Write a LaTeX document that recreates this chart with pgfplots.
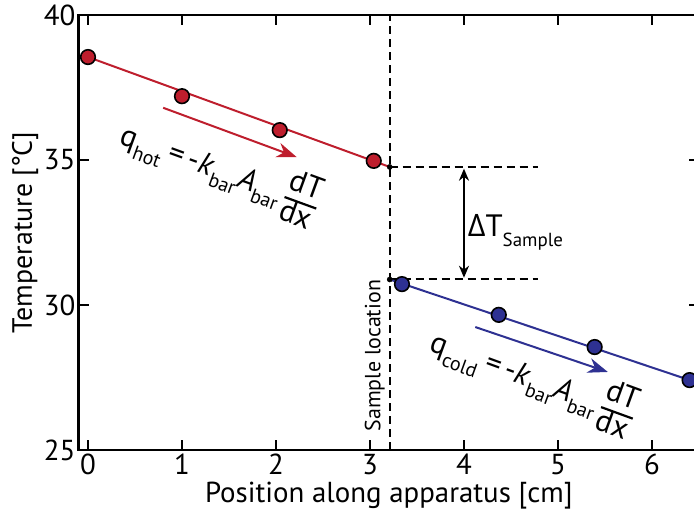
\documentclass[border=0pt]{standalone}
\usepackage{fontspec}
\setmainfont{PT Sans}
\newfontfamily\gk{Open Sans}
\usepackage{pgfplots}
\pgfplotsset{compat=1.18}
\usetikzlibrary{arrows.meta}
\definecolor{hot}{RGB}{190,30,45}
\definecolor{cold}{RGB}{46,49,146}
\newcommand{\fs}[1]{\fontsize{#1}{#1}\selectfont}
\newcommand{\sub}[1]{\raisebox{-0.32em}{\fs{20}#1}}
\newcommand{\dfr}{{\setlength{\arrayrulewidth}{2.2bp}\renewcommand{\arraystretch}{0.85}\begin{tabular}{@{}c@{}}dT\\\hline dx\end{tabular}}}
\newcommand{\eqn}[1]{\fs{31}q\sub{#1}\hspace{0.2em}=\hspace{0.15em}-\textit{k}\sub{bar}\textit{A}\sub{bar}\hspace{0.15em}\dfr}
\begin{document}
\begin{tikzpicture}
\begin{axis}[
  x=94bp, y=29bp,
  xmin=-0.1, xmax=6.5, ymin=25, ymax=40,
  clip=false,
  axis line style={line width=2.5bp},
  tick style={line width=2bp, black},
  major tick length=10bp,
  tick align=inside,
  xtick={0,1,2,3,4,5,6}, ytick={25,30,35,40},
  /pgf/number format/assume math mode=true,
  ticklabel style={font=\fs{29}},
  xticklabel style={inner sep=4bp},
  yticklabel style={inner sep=3bp},
  xlabel style={font=\fs{29}, yshift=1bp},
  ylabel style={font=\fs{28}, yshift=-1bp},
  xlabel={Position along apparatus [cm]},
  ylabel={Temperature [°C]},
]
% dashed guides
\addplot[black, line width=2bp, dash pattern=on 8bp off 5bp] coordinates {(3.21,25) (3.21,40)};
\addplot[black, line width=2bp, dash pattern=on 8bp off 5bp] coordinates {(3.21,34.76) (4.79,34.76)};
\addplot[black, line width=2bp, dash pattern=on 8bp off 5bp] coordinates {(3.21,30.88) (4.79,30.88)};
\addplot[black, line width=2bp, {Stealth[length=12bp,width=10bp]}-{Stealth[length=12bp,width=10bp]}] coordinates {(4.0,34.70) (4.0,30.94)};
% fit lines
\addplot[hot, line width=2bp] coordinates {(0,38.55) (3.21,34.76)};
\addplot[cold, line width=2bp] coordinates {(3.21,30.88) (6.4,27.41)};
% end dots
\addplot[only marks, mark=*, mark size=2.6bp, black] coordinates {(3.21,34.76) (3.21,30.88)};
% data
\addplot[only marks, mark=*, mark size=7.3bp, mark options={fill=hot, draw=black, line width=1.6bp}] coordinates {(0,38.55) (1.0,37.2) (2.04,36.03) (3.04,34.97)};
\addplot[only marks, mark=*, mark size=7.3bp, mark options={fill=cold, draw=black, line width=1.6bp}] coordinates {(3.34,30.72) (4.37,29.66) (5.39,28.55) (6.4,27.41)};
% flux arrows
\addplot[hot, line width=2bp, -{Stealth[length=20bp,width=15bp]}] coordinates {(0.8,36.8) (2.22,35.1)};
\addplot[cold, line width=2bp, -{Stealth[length=20bp,width=15bp]}] coordinates {(4.12,29.24) (5.53,27.69)};
% labels
\node[rotate=-20] at (axis cs:1.39,34.55) {\eqn{hot}};
\node[rotate=-20] at (axis cs:4.72,27.35) {\eqn{cold}};
\node[anchor=base west, inner sep=0pt] at (axis cs:4.04,32.35) {\fs{31}{\gk Δ}T\raisebox{-0.3em}{\fs{19}Sample}};
\node[rotate=90, inner sep=0pt] at (axis cs:3.05,28.25) {\fs{22}Sample location};
\coordinate (bbsw) at (axis cs:-0.936,22.79);
\coordinate (bbne) at (axis cs:6.447,40.517);
\end{axis}
\pgfresetboundingbox
\useasboundingbox (bbsw) rectangle (bbne);
\end{tikzpicture}
\end{document}
